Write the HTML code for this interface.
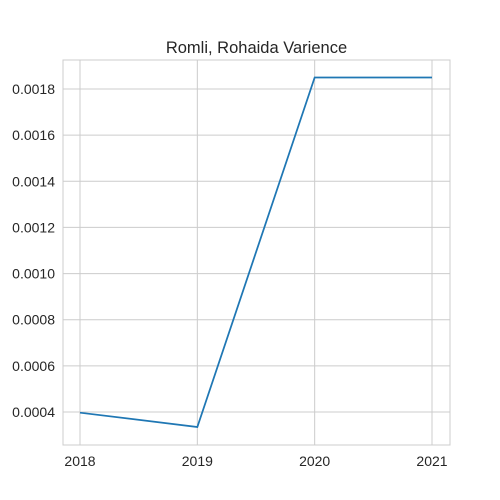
<!DOCTYPE html>
<html><head><meta charset="utf-8"><style>body{margin:0;background:#fff}svg{display:block;font-family:"Liberation Sans",sans-serif}</style></head>
<body>
<svg id="chart" width="500" height="500" viewBox="0 0 500 500"></svg>
<script>
const years = [2018, 2019, 2020, 2021];
const values = [0.000397, 0.000335, 0.00185, 0.00185];
const yTicks = [0.0004, 0.0006, 0.0008, 0.0010, 0.0012, 0.0014, 0.0016, 0.0018];
const L=63,R=450,T=60,B=445;
const xs=v=>80+(v-2018)*(432-80)/3;
const ys=v=>412-(v-0.0004)*(412-89)/0.0014;
const svg=document.getElementById('chart');const NS='http://www.w3.org/2000/svg';
function mk(t,a,p){const e=document.createElementNS(NS,t);for(const k in a)e.setAttribute(k,a[k]);(p||svg).appendChild(e);return e;}
const plot=mk('rect',{x:L,y:T,width:R-L,height:B-T,fill:'#fff',stroke:'#cccccc','stroke-width':1});


yTicks.forEach(v=>{const y=ys(v);
const g=mk('line',{x1:L,x2:R,y1:y,y2:y,stroke:'#cccccc','stroke-width':1});


const t=mk('text',{x:L-8,y:y+5,'text-anchor':'end','font-size':14,fill:'#262626'});t.textContent=v.toFixed(4);

});
years.forEach(v=>{const x=xs(v);
const g=mk('line',{x1:x,x2:x,y1:T,y2:B,stroke:'#cccccc','stroke-width':1});


const t=mk('text',{x:x,y:B+21,'text-anchor':'middle','font-size':14,fill:'#262626'});t.textContent=v;

});
const pl=mk('polyline',{points:years.map((y,i)=>xs(y)+','+ys(values[i])).join(' '),fill:'none',stroke:'#1f77b4','stroke-width':1.75});


const ti=mk('text',{x:(L+R)/2,y:T-7,'text-anchor':'middle','font-size':16.5,fill:'#262626'});ti.textContent='Romli, Rohaida Varience';


</script>
</body></html>
